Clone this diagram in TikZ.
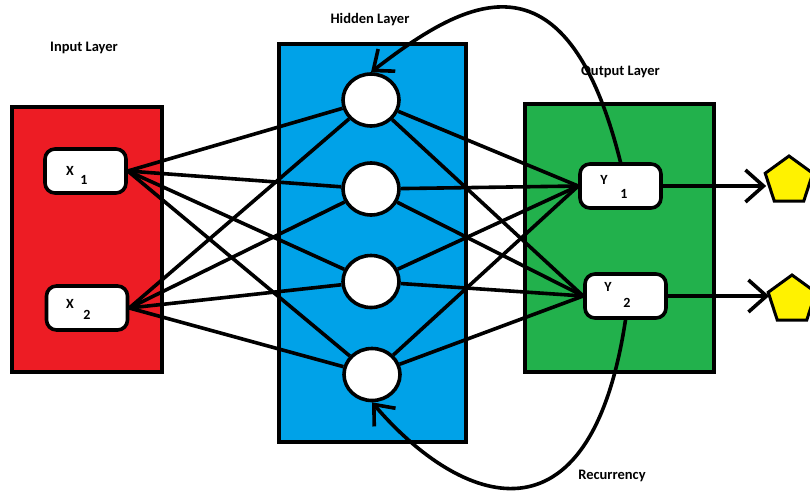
\documentclass[tikz,border=0pt]{standalone}
\usepackage{fontspec}
\setmainfont{Carlito}
\usetikzlibrary{arrows.meta,shapes.geometric}
\definecolor{pred}{HTML}{ED1C24}
\definecolor{pblue}{HTML}{00A2E8}
\definecolor{pgreen}{HTML}{22B14C}
\definecolor{pyellow}{HTML}{FFF200}
\begin{document}
\begin{tikzpicture}[x=1pt,y=-1pt,
  layerbox/.style={draw=black, line width=4pt},
  unitbox/.style={draw, line width=3.6pt, fill=white, rounded corners=10pt,
    minimum width=81pt, minimum height=44pt, inner sep=0pt},
  neuron/.style={draw, line width=3.6pt, fill=white, ellipse,
    minimum width=56pt, minimum height=52pt, inner sep=0pt},
  outnode/.style={draw, line width=3pt, fill=pyellow, regular polygon,
    regular polygon sides=5, minimum size=50pt, inner sep=0pt},
  conn/.style={line width=3.6pt},
  recur/.style={line width=3.6pt, -{Straight Barb[length=17pt,width=28pt,line width=3.6pt]}},
  outarrow/.style={line width=3.6pt, -{Straight Barb[length=18pt,width=32pt,line width=3.6pt]}},
  title/.style={font=\bfseries\fontsize{14.5}{16}\selectfont, inner sep=0pt},
  sym/.style={font=\bfseries\fontsize{14}{16}\selectfont, inner sep=0pt}
]
\useasboundingbox (0,0) rectangle (810,493);
\fill[white] (0,0) rectangle (810,493);

% layer boxes
\filldraw[layerbox, fill=pred]   (12,107) rectangle (161.5,371.5);
\filldraw[layerbox, fill=pblue]  (279,44) rectangle (466,442);
\filldraw[layerbox, fill=pgreen] (525,104) rectangle (713.5,371.5);

% titles
\node[title] (tin)  at (84,48)   {Input Layer};
\node[title] (thid) at (370,19.5) {Hidden Layer};
\node[title] (tout) at (620.5,72) {Output Layer};
\node[title] (trec) at (612,476) {Recurrency};

% node positions
\coordinate (X1p) at (85.5,171);
\coordinate (X2p) at (87,308);
\coordinate (h1p) at (371,100);
\coordinate (h2p) at (371,189);
\coordinate (h3p) at (371,281.5);
\coordinate (h4p) at (372,374.5);
\coordinate (Y1p) at (620.5,186);
\coordinate (Y2p) at (625.5,296);

% invisible nodes for connector ends
\node[unitbox, draw=none, fill=none] (X1) at (X1p) {};
\node[unitbox, draw=none, fill=none] (X2) at (X2p) {};
\node[unitbox, draw=none, fill=none] (Y1) at (Y1p) {};
\node[unitbox, draw=none, fill=none] (Y2) at (Y2p) {};
\node[neuron, draw=none, fill=none] (h1) at (h1p) {};
\node[neuron, draw=none, fill=none] (h2) at (h2p) {};
\node[neuron, draw=none, fill=none] (h3) at (h3p) {};
\node[neuron, draw=none, fill=none] (h4) at (h4p) {};

% connectors input -> hidden
\foreach \s in {X1,X2}{
  \foreach \t in {h1,h2,h3,h4}{
    \draw[conn] (\s.east) -- (\t);
  }
}
% connectors hidden -> output
\foreach \s in {h1,h2,h3,h4}{
  \foreach \t in {Y1,Y2}{
    \draw[conn] (\s) -- (\t.west);
  }
}

% visible nodes
\node[unitbox] (X1b) at (X1p) {};
\node[unitbox] (X2b) at (X2p) {};
\node[unitbox] (Y1b) at (Y1p) {};
\node[unitbox] (Y2b) at (Y2p) {};
\node[neuron] (h1b) at (h1p) {};
\node[neuron] (h2b) at (h2p) {};
\node[neuron] (h3b) at (h3p) {};
\node[neuron] (h4b) at (h4p) {};

% symbols
\node[sym] (x1l) at (70,171) {X};
\node[sym] (x1s) at (84,180) {1};
\node[sym] (x2l) at (70,304) {X};
\node[sym] (x2s) at (87,315) {2};
\node[sym] (y1l) at (604,180) {Y};
\node[sym] (y1s) at (624,194) {1};
\node[sym] (y2l) at (608,287) {Y};
\node[sym] (y2s) at (627,303) {2};

% outputs
\node[outnode] (P1) at (789,181) {};
\node[outnode] (P2) at (792,300) {};
\draw[outarrow] (Y1b.east) -- (Y1b.east -| P1.west);
\draw[outarrow] (Y2b.east) -- (Y2b.east -| P2.west);

% recurrency
\draw[recur] (Y1b.north) .. controls (565,-60) and (462,2) .. (h1b.north);
\draw[recur] (Y2b.south) .. controls (590,555) and (460,505) .. (h4b.south);
\end{tikzpicture}
\end{document}
